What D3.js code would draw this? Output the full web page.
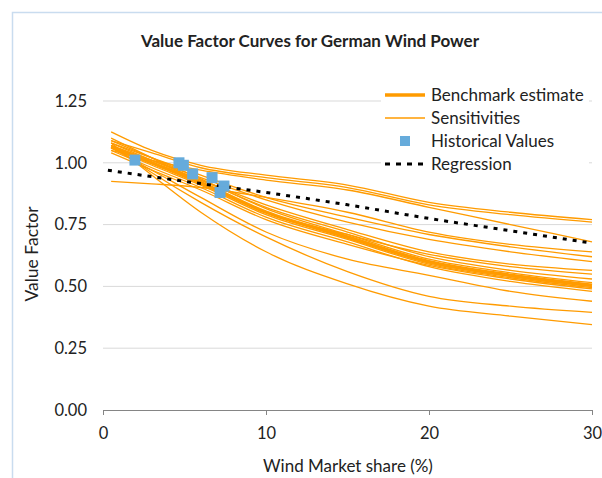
<!DOCTYPE html>
<html>
<head>
<meta charset="utf-8">
<script src="https://cdn.jsdelivr.net/npm/d3@7"></script>
<style>
  body { margin: 0; background: #fff; }
  text { font-family: Lato, "Open Sans", sans-serif; fill: #222; }
</style>
</head>
<body>
<svg id="chart" width="602" height="478"></svg>
<script>
let shareX = [0.5, 3, 6, 10, 15, 20, 25, 30];

let benchmark = [1.065, 1.00, 0.92, 0.80, 0.70, 0.60, 0.545, 0.505];

let sensitivities = [
  [1.125, 1.05, 0.99, 0.95, 0.91, 0.84, 0.80, 0.77],
  [1.09, 1.04, 0.98, 0.94, 0.90, 0.83, 0.79, 0.76],
  [1.05, 1.01, 0.97, 0.93, 0.89, 0.82, 0.75, 0.68],
  [0.925, 0.915, 0.90, 0.86, 0.80, 0.72, 0.67, 0.64],
  [1.08, 1.02, 0.95, 0.86, 0.78, 0.71, 0.66, 0.62],
  [1.07, 1.01, 0.94, 0.85, 0.76, 0.69, 0.64, 0.60],
  [1.06, 1.00, 0.93, 0.83, 0.73, 0.64, 0.59, 0.565],
  [1.10, 1.02, 0.92, 0.80, 0.71, 0.63, 0.58, 0.55],
  [1.08, 1.01, 0.93, 0.82, 0.72, 0.62, 0.565, 0.53],
  [1.06, 0.99, 0.91, 0.79, 0.69, 0.59, 0.535, 0.495],
  [1.07, 1.00, 0.915, 0.80, 0.695, 0.595, 0.54, 0.50],
  [1.05, 0.98, 0.90, 0.78, 0.68, 0.58, 0.52, 0.48],
  [1.09, 1.02, 0.935, 0.815, 0.71, 0.61, 0.555, 0.515],
  [1.04, 0.97, 0.89, 0.77, 0.67, 0.585, 0.53, 0.49],
  [1.06, 0.97, 0.86, 0.72, 0.61, 0.545, 0.48, 0.44],
  [1.07, 0.96, 0.84, 0.70, 0.56, 0.46, 0.42, 0.395],
  [1.08, 0.95, 0.80, 0.64, 0.51, 0.42, 0.38, 0.345]
];

// historical observations (share %, value factor)
let histShare = [1.96, 4.66, 4.93, 5.5, 6.69, 7.42, 7.18];
let histValue = [1.011, 1.00, 0.99, 0.955, 0.94, 0.906, 0.88];

let regShare = [0.3, 5, 10, 15, 20, 25, 30];
let regValue = [0.97, 0.925, 0.88, 0.83, 0.775, 0.725, 0.675];

let yTicks = [0, 0.25, 0.5, 0.75, 1.0, 1.25];
let xTicks = [0, 10, 20, 30];

let legendNames = ["Benchmark estimate", "Sensitivities", "Historical Values", "Regression"];

let orange = "#ff9b00";
let blue = "#66abdb";

let svg = d3.select("#chart");

// outer chart border
svg.append("rect")
  .attr("x", 12.5).attr("y", 12.5)
  .attr("width", 640).attr("height", 520)
  .attr("fill", "none")
  .attr("stroke", "#c9dcef")
  .attr("stroke-width", 1.5);

let plotLeft = 103, plotRight = 592, plotTop = 101, plotBottom = 410;

let xScale = d3.scaleLinear().domain([0, 30]).range([plotLeft, plotRight]);
let yScale = d3.scaleLinear().domain([0, 1.25]).range([plotBottom, plotTop]);

// gridlines
svg.append("g")
  .selectAll("line")
  .data(yTicks.filter(d => d > 0))
  .join("line")
  .attr("x1", plotLeft).attr("x2", plotRight)
  .attr("y1", d => yScale(d)).attr("y2", d => yScale(d))
  .attr("stroke", "#d9d9d9")
  .attr("stroke-width", 1);

// y axis labels (no axis line)
let leftAxis = d3.axisLeft(yScale).tickValues(yTicks).tickFormat(d3.format(".2f")).tickSize(0).tickPadding(16);
let yAxisG = svg.append("g")
  .attr("transform", `translate(${plotLeft}, 0)`)
  .call(leftAxis);
yAxisG.select(".domain").remove();
yAxisG.selectAll("text").style("font-size", "16.5px").attr("fill", "#222");

// x axis
let bottomAxis = d3.axisBottom(xScale).tickValues(xTicks).tickSizeInner(5).tickSizeOuter(0).tickPadding(12);
let xAxisG = svg.append("g")
  .attr("transform", `translate(0, ${plotBottom})`)
  .call(bottomAxis);
xAxisG.select(".domain").attr("stroke", "#858585");
xAxisG.selectAll(".tick line").attr("stroke", "#858585");
xAxisG.selectAll("text").style("font-size", "16.5px").attr("fill", "#222");

let lineGen = d3.line()
  .x((d, i) => xScale(shareX[i]))
  .y(d => yScale(d))
  .curve(d3.curveMonotoneX);

// sensitivity curves
svg.append("g")
  .selectAll("path")
  .data(sensitivities)
  .join("path")
  .attr("d", d => lineGen(d))
  .attr("fill", "none")
  .attr("stroke", orange)
  .attr("stroke-width", 1.3);

// benchmark curve
svg.append("path")
  .attr("d", lineGen(benchmark))
  .attr("fill", "none")
  .attr("stroke", orange)
  .attr("stroke-width", 3.5);

// regression
let regLine = d3.line()
  .x((d, i) => xScale(regShare[i]))
  .y(d => yScale(d))
  .curve(d3.curveMonotoneX);
svg.append("path")
  .attr("d", regLine(regValue))
  .attr("fill", "none")
  .attr("stroke", "#000")
  .attr("stroke-width", 3)
  .attr("stroke-dasharray", "4,6");

// historical squares
svg.append("g")
  .selectAll("rect")
  .data(histValue)
  .join("rect")
  .attr("x", (d, i) => xScale(histShare[i]) - 5.5)
  .attr("y", d => yScale(d) - 5.5)
  .attr("width", 11).attr("height", 11)
  .attr("fill", blue);

// title and axis labels
svg.append("text")
  .attr("x", 310).attr("y", 47)
  .attr("text-anchor", "middle")
  .style("font-size", "17px")
  .style("font-weight", "bold")
  .attr("fill", "#000")
  .text("Value Factor Curves for German Wind Power");

svg.append("text")
  .attr("x", 348).attr("y", 472)
  .attr("text-anchor", "middle")
  .style("font-size", "17px")
  .text("Wind Market share (%)");

svg.append("text")
  .attr("transform", "translate(38, 254) rotate(-90)")
  .attr("text-anchor", "middle")
  .style("font-size", "17.5px")
  .text("Value Factor");

// legend
let legend = svg.append("g");
legend.append("rect")
  .attr("x", 381).attr("y", 82)
  .attr("width", 208).attr("height", 90)
  .attr("fill", "#fff");

let rowY = d3.scalePoint().domain(legendNames).range([95, 164]);

legend.append("line")
  .attr("x1", 385).attr("x2", 425)
  .attr("y1", rowY(legendNames[0])).attr("y2", rowY(legendNames[0]))
  .attr("stroke", orange).attr("stroke-width", 3.5);
legend.append("line")
  .attr("x1", 385).attr("x2", 425)
  .attr("y1", rowY(legendNames[1])).attr("y2", rowY(legendNames[1]))
  .attr("stroke", orange).attr("stroke-width", 1.3);
legend.append("rect")
  .attr("x", 400).attr("y", rowY(legendNames[2]) - 5)
  .attr("width", 10).attr("height", 10)
  .attr("fill", blue);
legend.append("line")
  .attr("x1", 385).attr("x2", 425)
  .attr("y1", rowY(legendNames[3])).attr("y2", rowY(legendNames[3]))
  .attr("stroke", "#000").attr("stroke-width", 3)
  .attr("stroke-dasharray", "5,6");

legend.selectAll("text")
  .data(legendNames)
  .join("text")
  .attr("x", 431)
  .attr("y", d => rowY(d))
  .attr("dy", "0.35em")
  .style("font-size", "17px")
  .text(d => d);
</script>
</body>
</html>
